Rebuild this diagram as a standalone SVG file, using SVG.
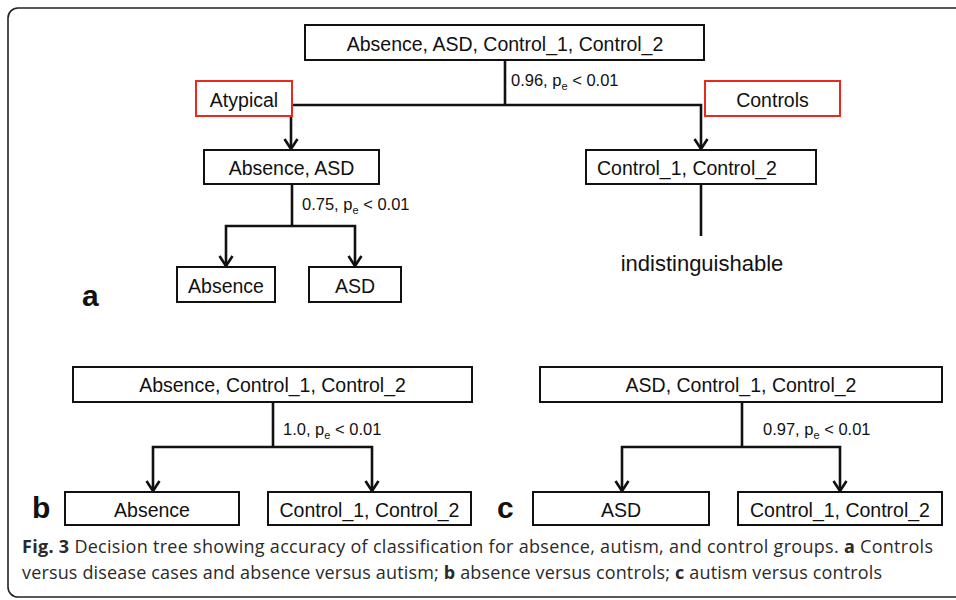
<svg xmlns="http://www.w3.org/2000/svg" width="956" height="600" viewBox="0 0 956 600">
<style>
.box{fill:#fff;stroke:#111;stroke-width:2}
.red{fill:#fff;stroke:#e8291c;stroke-width:2}
.t{font-family:"Liberation Sans",Arial,sans-serif;font-size:19.5px;fill:#111;text-anchor:middle}
.lbl{font-family:"Liberation Sans",Arial,sans-serif;font-size:16.5px;fill:#111}
.pl{font-family:"Liberation Sans",Arial,sans-serif;font-weight:bold;font-size:30px;fill:#111}
.cap{font-family:"Open Sans","Noto Sans",sans-serif;font-size:18px;fill:#2a2a2a}
.con{fill:none;stroke:#111;stroke-width:2.6}
</style>
<defs>
<marker id="arr" viewBox="-1 -8 13 16" refX="10" refY="0" markerWidth="13" markerHeight="16" markerUnits="userSpaceOnUse" orient="auto">
<path d="M0,-6.5 L10,0 L0,6.5" fill="none" stroke="#111" stroke-width="2.6"/>
</marker>
</defs>
<rect width="956" height="600" fill="#fff"/>
<rect x="8" y="8" width="1000" height="589" rx="10" fill="none" stroke="#222" stroke-width="1.6"/>

<g id="connectors">
<path class="con" d="M505 60 V105"/>
<path class="con" d="M291 105 H701 V149" marker-end="url(#arr)"/>
<path class="con" d="M291 105 V149" marker-end="url(#arr)"/>
<path class="con" d="M701 184 V236"/>
<path class="con" d="M292 184 V226"/>
<path class="con" d="M292 226 H226 V266" marker-end="url(#arr)"/>
<path class="con" d="M292 226 H355 V266" marker-end="url(#arr)"/>
<path class="con" d="M273 402 V447"/>
<path class="con" d="M273 447 H153 V491" marker-end="url(#arr)"/>
<path class="con" d="M273 447 H372 V491" marker-end="url(#arr)"/>
<path class="con" d="M742 402 V447"/>
<path class="con" d="M742 447 H622 V491" marker-end="url(#arr)"/>
<path class="con" d="M742 447 H840 V491" marker-end="url(#arr)"/>
</g>

<g id="a-root"><rect class="box" x="305" y="25" width="399" height="35"/><text class="t" x="505" y="50.5">Absence, ASD, Control_1, Control_2</text></g>
<g id="a-atypical"><rect class="red" x="196" y="81" width="96" height="35"/><text class="t" x="244" y="106.5">Atypical</text></g>
<g id="a-controls"><rect class="red" x="705" y="81" width="135" height="35"/><text class="t" x="772.5" y="106.5">Controls</text></g>
<g id="a-absasd"><rect class="box" x="204" y="150" width="175" height="34"/><text class="t" x="291.5" y="174.5">Absence, ASD</text></g>
<g id="a-ctrl"><rect class="box" x="586" y="150" width="230" height="34"/><text class="t" x="597" y="174.5" style="text-anchor:start">Control_1, Control_2</text></g>
<g id="a-indist"><text class="t" x="702" y="271" style="font-size:22px">indistinguishable</text></g>
<g id="a-absence"><rect class="box" x="177" y="267" width="98" height="35"/><text class="t" x="226" y="292.5">Absence</text></g>
<g id="a-asd"><rect class="box" x="309" y="267" width="92" height="35"/><text class="t" x="355" y="292.5">ASD</text></g>
<text class="lbl" x="511" y="86">0.96, p<tspan font-size="11" dy="4">e</tspan><tspan dy="-4"> &lt; 0.01</tspan></text>
<text class="lbl" x="302" y="210">0.75, p<tspan font-size="11" dy="4">e</tspan><tspan dy="-4"> &lt; 0.01</tspan></text>
<text class="pl" x="82" y="305.5">a</text>

<g id="b-root"><rect class="box" x="73" y="367" width="399" height="35"/><text class="t" x="272.5" y="392">Absence, Control_1, Control_2</text></g>
<g id="b-absence"><rect class="box" x="65" y="492" width="174" height="33"/><text class="t" x="152" y="516.5">Absence</text></g>
<g id="b-ctrl"><rect class="box" x="268" y="492" width="203" height="33"/><text class="t" x="369.5" y="516.5">Control_1, Control_2</text></g>
<text class="lbl" x="283" y="435">1.0, p<tspan font-size="11" dy="4">e</tspan><tspan dy="-4"> &lt; 0.01</tspan></text>
<text class="pl" x="32" y="518">b</text>

<g id="c-root"><rect class="box" x="540" y="367" width="402" height="35"/><text class="t" x="741" y="392">ASD, Control_1, Control_2</text></g>
<g id="c-asd"><rect class="box" x="533" y="492" width="176" height="33"/><text class="t" x="621" y="516.5">ASD</text></g>
<g id="c-ctrl"><rect class="box" x="738" y="492" width="204" height="33"/><text class="t" x="840" y="516.5">Control_1, Control_2</text></g>
<text class="lbl" x="763" y="435">0.97, p<tspan font-size="11" dy="4">e</tspan><tspan dy="-4"> &lt; 0.01</tspan></text>
<text class="pl" x="497" y="518">c</text>

<text class="cap" x="22" y="553" textLength="911" lengthAdjust="spacing"><tspan font-weight="bold">Fig. 3</tspan> Decision tree showing accuracy of classification for absence, autism, and control groups. <tspan font-weight="bold">a</tspan> Controls</text>
<text class="cap" x="22" y="579" textLength="860" lengthAdjust="spacing">versus disease cases and absence versus autism; <tspan font-weight="bold">b</tspan> absence versus controls; <tspan font-weight="bold">c</tspan> autism versus controls</text>
</svg>
